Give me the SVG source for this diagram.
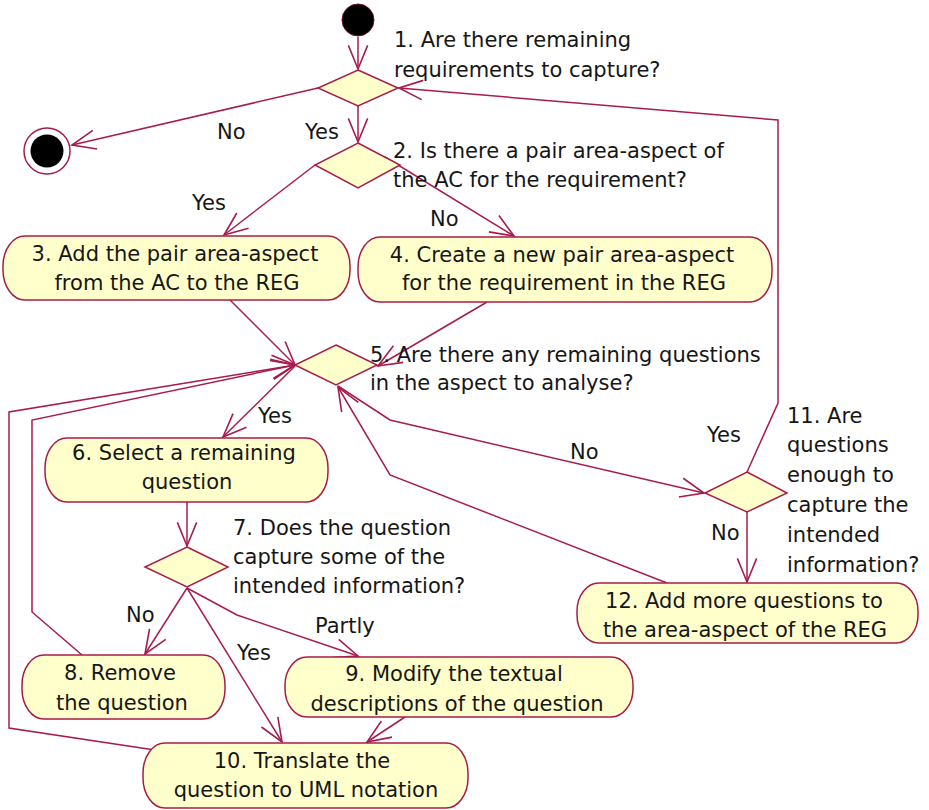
<svg xmlns="http://www.w3.org/2000/svg" width="929" height="810" viewBox="0 0 929 810">
<defs>
<marker id="arr" markerUnits="userSpaceOnUse" markerWidth="30" markerHeight="30" viewBox="-25 -12 28 24" refX="0" refY="0" orient="auto">
<path d="M -22 -9 L 0 0 L -22 9" fill="none" stroke="#A81C4C" stroke-width="1.5"/>
</marker>
</defs>
<style>
.n { fill: #FFFFCC; stroke: #A81C4C; stroke-width: 1.5; }
.d { fill: #FFFFCC; stroke: #A81C4C; stroke-width: 1.5; }
.e { fill: none; stroke: #A81C4C; stroke-width: 1.5; marker-end: url(#arr); }
text { font-family: "DejaVu Sans", "Liberation Sans", sans-serif; font-size: 21px; fill: #161616; }
.c { text-anchor: middle; }
</style>
<rect width="929" height="810" fill="#FFFFFF"/>

<g id="connectors">
<polyline class="e" points="358,37 358,69"/>
<polyline class="e" points="318,88 72,145"/>
<polyline class="e" points="358,106 358,142"/>
<polyline class="e" points="315,165 224,235"/>
<polyline class="e" points="385,157 514,236"/>
<polyline class="e" points="230,300 295,365"/>
<polyline class="e" points="487,302 378,366"/>
<polyline class="e" points="295,366 223,437"/>
<polyline class="e" points="187,502 187,546"/>
<polyline class="e" points="187,588 145,654"/>
<polyline class="e" points="187,588 282,742"/>
<polyline class="e" points="187,588 237,615 358,656"/>
<polyline class="e" points="405,717 367,742"/>
<polyline class="e" points="82,655 32,612 32,420 295,365"/>
<polyline class="e" points="168,752 9,728 9,412 295,365"/>
<polyline class="e" points="338,386 390,420 704,493"/>
<polyline class="e" points="747,472 778,403 778,120 399,88"/>
<polyline class="e" points="747,512 747,582"/>
<polyline class="e" points="667,583 390,475 338,387"/>
<text x="217" y="139">No</text>
<text x="305" y="139">Yes</text>
<text x="192" y="210">Yes</text>
<text x="430" y="226">No</text>
<text x="258" y="423">Yes</text>
<text x="570" y="459">No</text>
<text x="707" y="442">Yes</text>
<text x="711" y="540">No</text>
<text x="126" y="622">No</text>
<text x="237" y="660">Yes</text>
<text x="315" y="633">Partly</text>
</g>

<g id="start">
<circle cx="358" cy="20" r="16" fill="#000000" stroke="#6B0F2A" stroke-width="1"/>
</g>

<g id="end">
<circle cx="47" cy="151" r="23" fill="#FFFFFF" stroke="#A81C4C" stroke-width="1.5"/>
<circle cx="47" cy="151" r="16.5" fill="#000000"/>
</g>

<g id="decision1">
<polygon class="d" points="358,70 398,88 358,106 318,88"/>
<text x="394" y="47">1. Are there remaining</text>
<text x="394" y="77">requirements to capture?</text>
</g>

<g id="decision2">
<polygon class="d" points="358,143 400,165 358,188 315,165"/>
<text x="393" y="158">2. Is there a pair area-aspect of</text>
<text x="393" y="187">the AC for the requirement?</text>
</g>

<g id="node3">
<rect class="n" x="3" y="236" width="347" height="64" rx="22" ry="30"/>
<text class="c" x="175" y="261">3. Add the pair area-aspect</text>
<text class="c" x="177" y="290">from the AC to the REG</text>
</g>

<g id="node4">
<rect class="n" x="358" y="237" width="414" height="65" rx="22" ry="30"/>
<text class="c" x="562" y="262">4. Create a new pair area-aspect</text>
<text class="c" x="564" y="290">for the requirement in the REG</text>
</g>

<g id="decision5">
<polygon class="d" points="336,345 377,365 336,385 295,365"/>
<text x="370" y="362">5. Are there any remaining questions</text>
<text x="370" y="390">in the aspect to analyse?</text>
</g>

<g id="node6">
<rect class="n" x="45" y="438" width="283" height="64" rx="22" ry="30"/>
<text class="c" x="184" y="460">6. Select a remaining</text>
<text class="c" x="187" y="489">question</text>
</g>

<g id="decision7">
<polygon class="d" points="187,547 228,567 187,587 145,567"/>
<text x="233" y="535">7. Does the question</text>
<text x="233" y="564">capture some of the</text>
<text x="233" y="593">intended information?</text>
</g>

<g id="node8">
<rect class="n" x="22" y="655" width="203" height="64" rx="22" ry="30"/>
<text class="c" x="120" y="680">8. Remove</text>
<text class="c" x="122" y="710">the question</text>
</g>

<g id="node9">
<rect class="n" x="285" y="657" width="348" height="60" rx="22" ry="28"/>
<text class="c" x="454" y="681">9. Modify the textual</text>
<text class="c" x="457" y="711">descriptions of the question</text>
</g>

<g id="node10">
<rect class="n" x="143" y="743" width="325" height="65" rx="22" ry="30"/>
<text class="c" x="302" y="768">10. Translate the</text>
<text class="c" x="306" y="797">question to UML notation</text>
</g>

<g id="decision11">
<polygon class="d" points="747,472 787,493 747,512 705,493"/>
<text x="787" y="423">11. Are</text>
<text x="787" y="452">questions</text>
<text x="787" y="482">enough to</text>
<text x="787" y="512">capture the</text>
<text x="787" y="542">intended</text>
<text x="787" y="572">information?</text>
</g>

<g id="node12">
<rect class="n" x="577" y="583" width="341" height="60" rx="22" ry="28"/>
<text class="c" x="744" y="608">12. Add more questions to</text>
<text class="c" x="745" y="637">the area-aspect of the REG</text>
</g>
</svg>
